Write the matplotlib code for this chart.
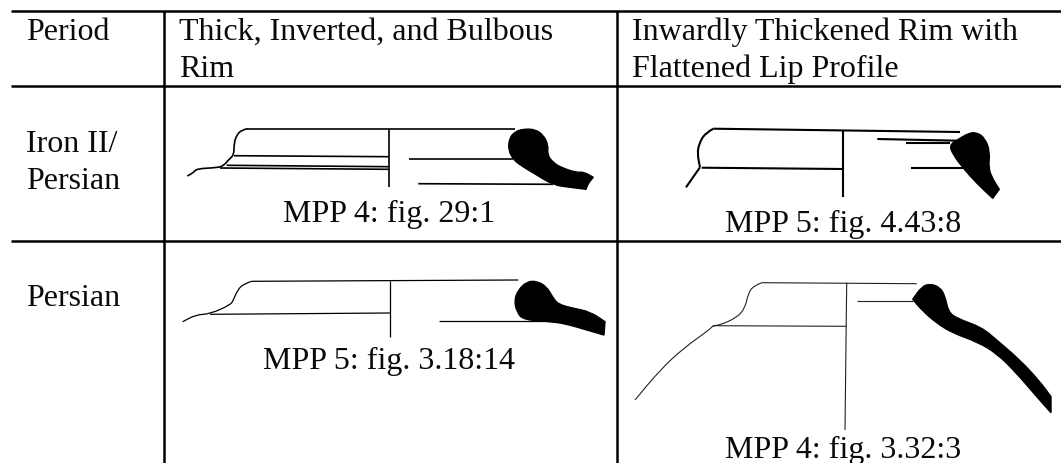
import matplotlib
matplotlib.use('Agg')
import matplotlib.pyplot as plt
from matplotlib.patches import PathPatch
from matplotlib.path import Path

plt.rcParams['font.family'] = ['Liberation Serif', 'DejaVu Serif']

W, H = 1061, 463
FONT = 23

# table text
HEADER_1 = ["Period"]
HEADER_2 = ["Thick, Inverted, and Bulbous", "Rim"]
HEADER_3 = ["Inwardly Thickened Rim with", "Flattened Lip Profile"]
PERIOD_1 = ["Iron II/", "Persian"]
PERIOD_2 = ["Persian"]
CAPTIONS = ["MPP 4: fig. 29:1", "MPP 5: fig. 4.43:8", "MPP 5: fig. 3.18:14", "MPP 4: fig. 3.32:3"]

# table rules
RULES_Y = [11, 86, 241]
RULES_X = [164, 617]

# rim profile 1 (MPP 4: fig. 29:1)
rim1_x = [247.3, 241.7, 236.7, 234, 234, 228.3, 223.3, 216.7, 196.7, 193.3, 187.3]
rim1_y = [128.7, 130, 135, 143.3, 155, 160, 166, 167.7, 168.7, 172.7, 176]
rim1_lines = [((247.3, 515), (128.7, 128.7)), ((234, 389), (155.7, 156.7)), ((226.7, 389), (165.3, 166.7)),
              ((220, 389), (168, 169.3)), ((389, 389), (128.7, 187.3)), ((408.7, 513), (159, 159)),
              ((418.3, 553), (183.7, 184.3))]
blob1_x = [515, 523.3, 535, 543.3, 548.3, 547.3, 553.3, 561.7, 576.7, 583.3, 593.3, 593.3, 588.3, 586, 586, 570, 553.3, 536.7, 520, 513.3, 508.3, 509.3]
blob1_y = [131.7, 129, 129.3, 135, 145, 155, 162.7, 167.7, 172.7, 171.7, 177.3, 177.3, 183.3, 189.3, 189.3, 187.3, 185, 175, 165, 159.3, 150, 138.3]

# rim profile 2 (MPP 5: fig. 4.43:8)
rim2_x = [713.3, 705, 699.3, 697.3, 700]
rim2_y = [128.7, 133.3, 143.3, 153.3, 167.3]
rim2_lines = [((713.3, 960), (128.7, 132)), ((700, 686), (167.3, 187.3)), ((701.7, 842.7), (167.7, 169)),
              ((842.7, 842.7), (130.7, 196.7)), ((877.3, 958.3), (139, 140.7)), ((905.7, 950), (143.3, 143.3)),
              ((911, 963.3), (168, 168))]
blob2_x = [958.3, 968.3, 976.7, 985, 990, 988.3, 993.3, 999.3, 999.3, 992.7, 992.7, 976.7, 963.3, 953.3, 949.3]
blob2_y = [139.3, 133.3, 132.3, 138.3, 151.7, 168.3, 180, 189.3, 189.3, 198.3, 198.3, 183.3, 168.3, 155, 145]

# rim profile 3 (MPP 5: fig. 3.18:14)
rim3_x = [251.7, 243.3, 237.7, 233.3, 230.7, 210, 196, 182.7]
rim3_y = [281.3, 284, 290, 300, 304.7, 314, 314.7, 321.7]
rim3_lines = [((251.7, 518.3), (281.3, 280)), ((210, 390), (314.3, 313)), ((390, 390), (281.3, 336.7)),
              ((439.3, 553.3), (320.7, 320.7))]
blob3_x = [518.3, 526.7, 536.7, 546.7, 552.7, 558.3, 573.3, 590, 605, 605, 604, 604, 586.7, 570, 553.3, 523.3, 516.7, 514.3]
blob3_y = [290, 281.7, 281, 286.7, 297.3, 304.3, 308.3, 311.7, 321.7, 321.7, 335, 335, 330, 325, 321.7, 320, 311.7, 300]

# rim profile 4 (MPP 4: fig. 3.32:3)
rim4_x = [761.7, 753.3, 748.3, 745, 736.7, 720, 712.7, 710, 683.3, 660, 635]
rim4_y = [282.7, 286, 293.3, 308.3, 317.7, 325, 325.7, 329.3, 348.3, 370, 400]
rim4_lines = [((761.7, 916.7), (282.7, 283.7)), ((712.7, 846.7), (325.7, 326.3)), ((846.7, 845), (282.7, 430)),
              ((857.3, 913.3), (301.3, 301.3))]
blob4_x = [912.7, 912.7, 921.7, 930, 940, 945, 948.3, 956.7, 981.7, 996.7, 1020, 1040, 1051, 1051, 1051, 1051, 1036.7, 1016.7, 996.7, 976.7, 953.3, 936.7, 921.7]
blob4_y = [299.3, 299.3, 286.7, 283.7, 287.3, 296, 311.7, 318.3, 327.3, 340, 360, 381.7, 396.7, 396.7, 412.7, 412.7, 396.7, 373.3, 353.3, 341.7, 333.3, 323.3, 310]


def smooth_path(xs, ys, closed=False):
    # quadratic curves through segment midpoints, rounds off the hand traced corners
    pts = list(zip(xs, ys))
    if closed:
        pts = pts + pts[:2]
        mid = ((pts[0][0] + pts[1][0]) / 2, (pts[0][1] + pts[1][1]) / 2)
        verts, codes = [mid], [Path.MOVETO]
    else:
        verts, codes = [pts[0]], [Path.MOVETO]
    for i in range(1, len(pts) - 1):
        m = ((pts[i][0] + pts[i + 1][0]) / 2, (pts[i][1] + pts[i + 1][1]) / 2)
        verts += [pts[i], m]
        codes += [Path.CURVE3, Path.CURVE3]
    if not closed:
        verts.append(pts[-1])
        codes.append(Path.LINETO)
    return Path(verts, codes)


def draw_rim(ax, xs, ys, lines, blob_x, blob_y, lw, color='black'):
    ax.add_patch(PathPatch(smooth_path(xs, ys), fc='none', ec=color, lw=lw))
    for lx, ly in lines:
        ax.plot(lx, ly, color=color, lw=lw, solid_capstyle='butt')
    ax.add_patch(PathPatch(smooth_path(blob_x, blob_y, closed=True), fc='black', ec='black', lw=1.0))


def text_lines(ax, x, y, lines, step=37):
    for i, line in enumerate(lines):
        ax.text(x, y + i * step, line, fontsize=FONT, va='baseline', color='#0a0a0a')


fig = plt.figure(figsize=(W / 100, H / 100), dpi=100)
ax = fig.add_axes([0, 0, 1, 1])
ax.set_xlim(0, W)
ax.set_ylim(H, 0)
ax.axis('off')

# table rules
for y in RULES_Y:
    ax.plot([11, W], [y, y], color='black', lw=1.8, solid_capstyle='butt')
for x in RULES_X:
    ax.plot([x, x], [11, H], color='black', lw=1.8, solid_capstyle='butt')

# header and first column
text_lines(ax, 26, 40, HEADER_1)
text_lines(ax, 179, 40, HEADER_2)
text_lines(ax, 632, 40, HEADER_3)
text_lines(ax, 26, 152, PERIOD_1)
text_lines(ax, 26, 306.5, PERIOD_2)

# captions
ax.text(389, 222, CAPTIONS[0], fontsize=FONT, ha='center', va='baseline', color='#0a0a0a')
ax.text(843, 232, CAPTIONS[1], fontsize=FONT, ha='center', va='baseline', color='#0a0a0a')
ax.text(389, 369, CAPTIONS[2], fontsize=FONT, ha='center', va='baseline', color='#0a0a0a')
ax.text(843, 458, CAPTIONS[3], fontsize=FONT, ha='center', va='baseline', color='#0a0a0a')

# pottery drawings
draw_rim(ax, rim1_x, rim1_y, rim1_lines, blob1_x, blob1_y, 1.2)
draw_rim(ax, rim2_x, rim2_y, rim2_lines, blob2_x, blob2_y, 1.5)
draw_rim(ax, rim3_x, rim3_y, rim3_lines, blob3_x, blob3_y, 0.9)
draw_rim(ax, rim4_x, rim4_y, rim4_lines, blob4_x, blob4_y, 0.8, color='#222222')

fig.savefig('out.png', dpi=100)
